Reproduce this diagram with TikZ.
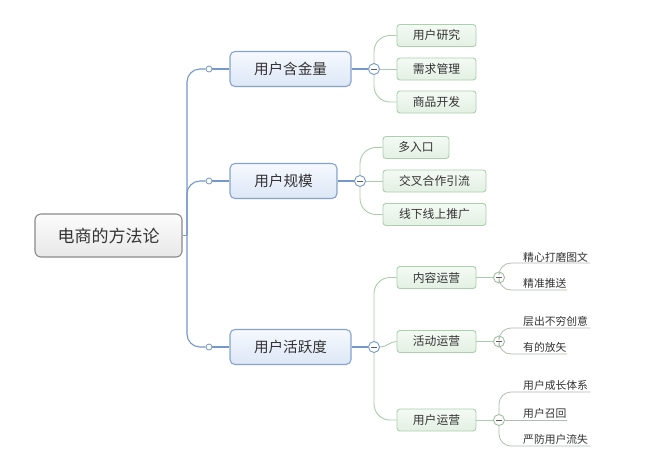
\documentclass[tikz,border=0pt]{standalone}
\usepackage{fontspec}
\setmainfont{Noto Sans CJK SC}
\definecolor{txt}{HTML}{333333}
\definecolor{bluel}{HTML}{7498CA}
\definecolor{bluebd}{HTML}{86A3CF}
\definecolor{bluetop}{HTML}{F6F9FE}
\definecolor{bluebot}{HTML}{DCE7F6}
\definecolor{greenl}{HTML}{AACDAA}
\definecolor{greenbd}{HTML}{A9D1AB}
\definecolor{greentop}{HTML}{F4FAF4}
\definecolor{greenbot}{HTML}{E3F0E3}
\definecolor{leafl}{HTML}{B2BDB2}
\definecolor{rootbd}{HTML}{8A8A8A}
\definecolor{roottop}{HTML}{FCFCFC}
\definecolor{rootbot}{HTML}{E8E8E8}
\tikzset{
  rootbox/.style={draw=rootbd, line width=1.1pt, rounded corners=6pt, top color=roottop, bottom color=rootbot,
    minimum width=147pt, minimum height=43pt, inner sep=0pt, text=txt, font=\fontsize{17}{20}\selectfont},
  lvlone/.style={draw=bluebd, line width=1.1pt, rounded corners=5pt, top color=bluetop, bottom color=bluebot,
    minimum height=35pt, inner sep=0pt, text=txt, font=\fontsize{14.6}{17}\selectfont},
  lvltwo/.style={draw=greenbd, line width=0.9pt, rounded corners=3pt, top color=greentop, bottom color=greenbot,
    minimum height=22pt, inner sep=0pt, text=txt, font=\fontsize{11.8}{14}\selectfont},
  leaf/.style={anchor=west, inner sep=0pt, text=txt, font=\fontsize{10.8}{13}\selectfont},
  dot/.style={circle, draw=bluel, fill=white, line width=0.8pt, minimum size=6pt, inner sep=0pt},
  minusb/.style={circle, draw=bluel, fill=white, line width=0.9pt, minimum size=11pt, inner sep=0pt,
    path picture={\draw[line width=0.9pt, color=txt!80] ([xshift=-2.6pt]path picture bounding box.center) -- ([xshift=2.6pt]path picture bounding box.center);}},
  minusg/.style={circle, draw=greenl!80!gray, fill=white, line width=0.9pt, minimum size=11pt, inner sep=0pt,
    path picture={\draw[line width=0.9pt, color=txt!80] ([xshift=-2.6pt]path picture bounding box.center) -- ([xshift=2.6pt]path picture bounding box.center);}},
  bline/.style={draw=bluel, line width=1.1pt},
  gline/.style={draw=greenl, line width=0.9pt},
  lline/.style={draw=leafl, line width=0.8pt},
}
\begin{document}
\begin{tikzpicture}[x=1pt,y=-1pt]
\useasboundingbox[fill=white] (0,0) rectangle (660,467);

% root and level 1
\node[rootbox] (root) at (108.5,235.5) {电商的方法论};
\node[lvlone, minimum width=121pt] (A) at (290.5,69) {用户含金量};
\node[lvlone, minimum width=107pt] (B) at (283.5,181) {用户规模};
\node[lvlone, minimum width=121pt] (C) at (290.5,347) {用户活跃度};

\coordinate (t) at (187,235.5);
\node[dot] (ca) at (209,69) {};
\node[dot] (cb) at (209,181) {};
\node[dot] (cc) at (209,347) {};

\draw[bline] (root.east) -- (t);
\draw[bline, rounded corners=13pt] (t) |- (ca);
\draw[bline, rounded corners=13pt] (t) |- (cb);
\draw[bline, rounded corners=13pt] (t) |- (cc);
\draw[bline] (ca) -- (A.west);
\draw[bline] (cb) -- (B.west);
\draw[bline] (cc) -- (C.west);

% level 2 nodes
\node[lvltwo, minimum width=79pt] (A1) at (436.5,35.5) {用户研究};
\node[lvltwo, minimum width=79pt] (A2) at (436.5,69) {需求管理};
\node[lvltwo, minimum width=79pt] (A3) at (436.5,102) {商品开发};

\node[lvltwo, minimum width=66pt] (B1) at (416,147.5) {多入口};
\node[lvltwo, minimum width=103pt] (B2) at (434.5,181) {交叉合作引流};
\node[lvltwo, minimum width=103pt] (B3) at (434.5,214.5) {线下线上推广};

\node[lvltwo, minimum width=79pt] (C1) at (436.5,277.5) {内容运营};
\node[lvltwo, minimum width=79pt] (C2) at (436.5,341.5) {活动运营};
\node[lvltwo, minimum width=79pt] (C3) at (436.5,420) {用户运营};

\node[minusb] (ma) at (374,69) {};
\node[minusb] (mb) at (360,181) {};
\node[minusb] (mc) at (374,347) {};

\draw[bline] (A.east) -- (ma);
\draw[bline] (B.east) -- (mb);
\draw[bline] (C.east) -- (mc);

\draw[gline, rounded corners=16pt] (ma) |- (A1.west);
\draw[gline] (ma) -- (A2.west);
\draw[gline, rounded corners=16pt] (ma) |- (A3.west);

\draw[gline, rounded corners=16pt] (mb) |- (B1.west);
\draw[gline] (mb) -- (B2.west);
\draw[gline, rounded corners=16pt] (mb) |- (B3.west);

\draw[gline, rounded corners=16pt] (mc) |- (C1.west);
\draw[gline] (mc) to[out=0,in=180] (C2.west);
\draw[gline, rounded corners=16pt] (mc) |- (C3.west);

% level 3
\node[minusg] (n1) at (499,277.5) {};
\node[minusg] (n2) at (499,341.5) {};
\node[minusg] (n3) at (499,420) {};

\draw[gline] (C1.east) -- (n1);
\draw[gline] (C2.east) -- (n2);
\draw[gline] (C3.east) -- (n3);

\node[leaf] (l1) at (523,257) {精心打磨图文};
\node[leaf] (l2) at (523,283) {精准推送};
\node[leaf] (l3) at (523,321) {层出不穷创意};
\node[leaf] (l4) at (523,347) {有的放矢};
\node[leaf] (l5) at (523,385) {用户成长体系};
\node[leaf] (l6) at (523,413) {用户召回};
\node[leaf] (l7) at (523,439) {严防用户流失};

\coordinate (e1) at (590,263);
\coordinate (e2) at (567,290);
\coordinate (e3) at (590,328);
\coordinate (e4) at (567,354);
\coordinate (e5) at (590,392);
\coordinate (e6) at (567,420);
\coordinate (e7) at (590,446);

\draw[lline, rounded corners=12pt] (n1) |- (e1);
\draw[lline, rounded corners=12pt] (n1) |- (e2);
\draw[lline, rounded corners=12pt] (n2) |- (e3);
\draw[lline, rounded corners=12pt] (n2) |- (e4);
\draw[lline, rounded corners=12pt] (n3) |- (e5);
\draw[lline] (n3) -- (e6);
\draw[lline, rounded corners=12pt] (n3) |- (e7);
\end{tikzpicture}
\end{document}
